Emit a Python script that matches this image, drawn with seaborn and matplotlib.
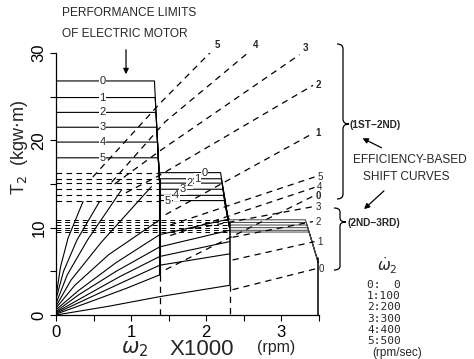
import matplotlib
matplotlib.use('Agg')
import matplotlib.pyplot as plt
import seaborn as sns
from matplotlib.path import Path
from matplotlib.patches import PathPatch

# acceleration rates (dw2/dt) used as curve labels
rate_labels = ['0', '1', '2', '3', '4', '5']
rate_values = ['  0', '100', '200', '300', '400', '500']

# motor torque limits per gear, one level per acceleration rate
gear1_torque = [26.8, 24.9, 23.2, 21.5, 19.8, 18.0]
gear1_corner = [1.31, 1.32, 1.33, 1.34, 1.35, 1.36]
gear2_torque = [16.3, 15.6, 15.1, 14.4, 13.7, 13.1]
gear2_corner = [2.19, 2.20, 2.21, 2.22, 2.23, 2.24]
gear3_torque = [10.9, 10.6, 10.3, 10.0, 9.7, 9.5]
gear3_corner = [3.32, 3.33, 3.34, 3.35, 3.36, 3.37]
gear_top_speed = [1.38, 2.31, 3.49]
gear_drop_torque = [15.0, 10.0, 6.0]
gear_floor_torque = [4.6, 3.4, 0.0]

# solid load curves fanning out from the origin
fan_speed = [
    [0, 0.06, 0.16, 0.36],
    [0, 0.10, 0.28, 0.58],
    [0, 0.15, 0.42, 0.87],
    [0, 0.20, 0.60, 1.27],
    [0, 0.25, 0.70, 1.38],
    [0, 0.30, 0.80, 1.38, 2.31],
    [0, 0.30, 0.80, 1.38, 2.31],
    [0, 0.35, 0.85, 1.38, 2.31],
    [0, 0.40, 0.90, 1.38, 2.31],
    [0, 0.45, 0.95, 1.38],
    [0, 0.70, 1.38, 2.31],
]
fan_torque = [
    [2.1, 5.5, 8.8, 13.0],
    [1.8, 5.0, 8.6, 13.0],
    [1.3, 4.6, 8.6, 14.3],
    [1.0, 4.0, 8.3, 14.7],
    [0.8, 3.4, 6.9, 10.9],
    [0.6, 2.8, 6.0, 9.2, 11.0],
    [0.4, 2.3, 5.0, 7.8, 9.7],
    [0.3, 2.0, 4.4, 6.7, 8.4],
    [0.2, 1.8, 3.8, 5.7, 7.0],
    [0.1, 1.5, 3.1, 4.6],
    [0.0, 1.0, 2.1, 3.4],
]

# efficiency-based shift curves, 1st->2nd (labels 0..5)
shift12_speed = [
    [1.46, 3.42],
    [1.46, 3.42],
    [0.93, 1.38, 3.42],
    [0.78, 1.40, 3.24],
    [0.74, 1.45, 2.58],
    [0.49, 1.38, 2.07],
]
shift12_torque = [
    [5.2, 13.6],
    [11.5, 20.8],
    [14.0, 16.0, 26.3],
    [15.0, 18.9, 29.8],
    [15.2, 22.1, 30.2],
    [15.8, 24.2, 30.2],
]
# 2nd->3rd
shift23_speed = [
    [2.35, 3.46],
    [2.35, 3.44],
    [2.35, 3.42],
    [1.85, 3.42],
    [1.52, 3.44],
    [1.52, 3.44],
]
shift23_torque = [
    [2.9, 5.3],
    [6.3, 8.4],
    [8.9, 10.7],
    [9.9, 12.4],
    [9.1, 14.6],
    [10.3, 15.8],
]

DASH = (0, (5, 4))
W, H = 474, 359


def fx(px):
    return px / W


def fy(py):
    return 1 - py / H


def draw(ax, xs, ys, dashed=False, lw=0.8, color='black'):
    sns.lineplot(x=xs, y=ys, ax=ax, color=color, lw=lw, sort=False,
                 estimator=None, legend=False,
                 linestyle=DASH if dashed else '-')


def brace(fig, x, top, tip, bottom, w=6, h=5):
    verts = [(x - w, top), (x, top), (x, top + h),
             (x, tip - h), (x, tip), (x + w, tip),
             (x, tip), (x, tip + h),
             (x, bottom - h), (x, bottom), (x - w, bottom)]
    codes = [Path.MOVETO, Path.CURVE3, Path.CURVE3,
             Path.LINETO, Path.CURVE3, Path.CURVE3,
             Path.CURVE3, Path.CURVE3,
             Path.LINETO, Path.CURVE3, Path.CURVE3]
    verts = [(fx(a), fy(b)) for a, b in verts]
    fig.patches.append(PathPatch(Path(verts, codes), fill=False, lw=0.9,
                                 ec='black', transform=fig.transFigure))


sns.set_theme(style='ticks')
plt.rcParams['font.family'] = ['Liberation Sans', 'DejaVu Sans']

fig = plt.figure(figsize=(W / 100, H / 100), dpi=100)
ax = fig.add_axes([fx(56), fy(315), fx(319) - fx(56), fy(53) - fy(315)])

# lower-gear limits carried over as dashed lines
for L in gear2_torque:
    draw(ax, [0, gear_top_speed[0]], [L, L], dashed=True, lw=0.8)
for L in gear3_torque:
    draw(ax, [0, gear_top_speed[1]], [L, L], dashed=True, lw=0.7)

# motor performance limits
for i in range(6):
    draw(ax, [0, gear1_corner[i], gear_top_speed[0]],
         [gear1_torque[i], gear1_torque[i], gear_drop_torque[0]])
    draw(ax, [gear_top_speed[0], gear2_corner[i], gear_top_speed[1]],
         [gear2_torque[i], gear2_torque[i], gear_drop_torque[1]])
    draw(ax, [gear_top_speed[1], gear3_corner[i], gear_top_speed[2]],
         [gear3_torque[i], gear3_torque[i], gear_drop_torque[2]],
         lw=0.7, color='0.25')

for g in range(3):
    s = gear_top_speed[g]
    draw(ax, [s, s], [gear_drop_torque[g] + 0.5, gear_floor_torque[g]],
         lw=1.5 if g == 0 else 1.1)
    if gear_floor_torque[g] > 0:
        draw(ax, [s, s], [gear_floor_torque[g], 0], dashed=True, lw=0.9)

for xs, ys in zip(fan_speed, fan_torque):
    draw(ax, xs, ys, lw=0.8)

for xs, ys in zip(shift12_speed, shift12_torque):
    draw(ax, xs, ys, dashed=True, lw=0.9)
for xs, ys in zip(shift23_speed, shift23_torque):
    draw(ax, xs, ys, dashed=True, lw=0.9)

# curve labels
box = dict(fc='white', ec='none', pad=0.4)
for i in range(6):
    ax.text(0.62, gear1_torque[i], rate_labels[i], ha='center', va='center',
            fontsize=8, bbox=box)
gear2_label_x = [1.98, 1.88, 1.78, 1.69, 1.60, 1.49]
for i in range(6):
    ax.text(gear2_label_x[i], gear2_torque[i], rate_labels[i], ha='center',
            va='center', fontsize=8, bbox=box)
for i in range(6):
    xs, ys = shift12_speed[i], shift12_torque[i]
    top = ys[-1] > 29
    ax.annotate(rate_labels[i], (xs[-1], ys[-1]), xytext=(2, 1 if top else 0),
                textcoords='offset points', ha='left',
                va='bottom' if top else 'center', fontsize=7,
                fontweight='bold', annotation_clip=False)
    xs, ys = shift23_speed[i], shift23_torque[i]
    ax.annotate(rate_labels[i], (xs[-1], ys[-1]), xytext=(2, 0),
                textcoords='offset points', ha='left', va='center',
                fontsize=7, annotation_clip=False)

# axes
ax.set_xlim(0, 3.5)
ax.set_ylim(0, 30)
ax.set_xticks([0, 1, 2, 3])
ax.set_xticks([0.5, 1.5, 2.5, 3.5], minor=True)
ax.set_yticks([0, 10, 20, 30])
ax.set_yticks([5, 15, 25], minor=True)
ax.tick_params(which='both', direction='out', length=4, width=0.8,
               color='black', labelcolor='black')
ax.tick_params(axis='x', labelsize=12, pad=3)
ax.tick_params(axis='y', labelsize=12, labelrotation=90, pad=3)
for t in ax.get_yticklabels():
    t.set_va('center')
sns.despine(ax=ax)
for sp in ['left', 'bottom']:
    ax.spines[sp].set_color('black')
    ax.spines[sp].set_linewidth(0.9)
ax.set_xlabel('')
ax.set_ylabel('')

fig.text(fx(121), fy(353), r'$\omega_2$', fontsize=15, ha='left', va='baseline')
fig.text(fx(169), fy(355), 'X1000', fontsize=16, ha='left', va='baseline')
fig.text(fx(257), fy(352), '(rpm)', fontsize=11.5, ha='left', va='baseline')
fig.text(fx(20), fy(147), r'T$_2$  (kgw$\cdot$m)', fontsize=13, rotation=90,
         ha='center', va='center')

# annotations
fig.text(fx(62), fy(13), 'PERFORMANCE LIMITS', fontsize=8.6,
         ha='left', va='center')
fig.text(fx(62), fy(34), 'OF ELECTRIC MOTOR', fontsize=8.6,
         ha='left', va='center')
ax.annotate('', xy=(fx(126), fy(77)), xycoords='figure fraction',
            xytext=(fx(126), fy(47)), textcoords='figure fraction',
            arrowprops=dict(arrowstyle='-|>', lw=0.9, color='black',
                            mutation_scale=8))

brace(fig, 343, 44, 124, 199)
brace(fig, 340, 208, 222, 270, h=4)
fig.text(fx(350), fy(125), '(1ST\u22122ND)', fontsize=7.3, ha='left',
         va='center', fontweight='bold')
fig.text(fx(347), fy(223), '(2ND\u22123RD)', fontsize=7.3, ha='left',
         va='center', fontweight='bold')
fig.text(fx(410), fy(160), 'EFFICIENCY-BASED', fontsize=8.6,
         ha='center', va='center')
fig.text(fx(406), fy(177), 'SHIFT CURVES', fontsize=8.6,
         ha='center', va='center')
ax.annotate('', xy=(fx(360), fy(137)), xycoords='figure fraction',
            xytext=(fx(384), fy(149)), textcoords='figure fraction',
            arrowprops=dict(arrowstyle='-|>', lw=0.9, color='black',
                            mutation_scale=8))
ax.annotate('', xy=(fx(362), fy(211)), xycoords='figure fraction',
            xytext=(fx(386), fy(189)), textcoords='figure fraction',
            arrowprops=dict(arrowstyle='-|>', lw=0.9, color='black',
                            mutation_scale=8))

# rate legend
fig.text(fx(387), fy(276), r'$\dot{\omega}_2$', fontsize=11, ha='center',
         va='bottom')
for i in range(6):
    fig.text(fx(367), fy(285 + 11.2 * i), rate_labels[i] + ':' + rate_values[i],
             fontsize=8, family='DejaVu Sans Mono', ha='left', va='center')
fig.text(fx(372), fy(353), '(rpm/sec)', fontsize=8.5, ha='left', va='center')

fig.savefig('out.png', dpi=100)
